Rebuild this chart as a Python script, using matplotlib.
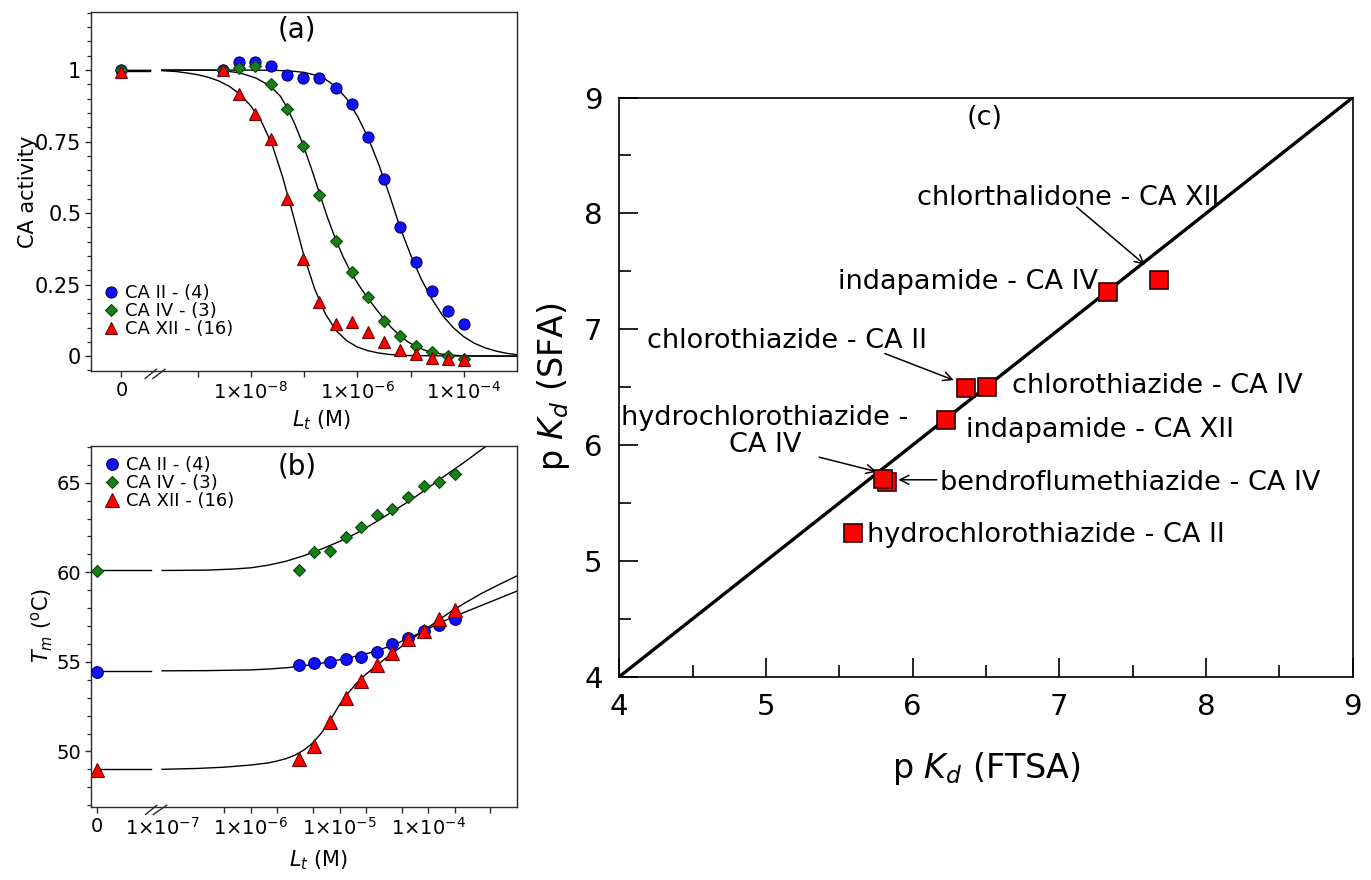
import matplotlib
import numpy as np

matplotlib.use("Agg")
import matplotlib.pyplot as plt
from matplotlib.transforms import blended_transform_factory

# ---------------------------------------------------------------------------
# Panel (a): CA activity (SFA) vs total ligand concentration, 2-fold dilutions
# ---------------------------------------------------------------------------
conc_a = [3.05e-9, 6.10e-9, 1.22e-8, 2.44e-8, 4.88e-8, 9.77e-8, 1.95e-7, 3.91e-7,
          7.81e-7, 1.56e-6, 3.13e-6, 6.25e-6, 1.25e-5, 2.5e-5, 5e-5, 1e-4]
act_ca2 = [1.0, 1.027, 1.029, 1.014, 0.983, 0.973, 0.971, 0.938,
           0.880, 0.767, 0.618, 0.450, 0.330, 0.227, 0.157, 0.114]
act_ca4 = [1.0, 1.008, 1.015, 0.950, 0.864, 0.735, 0.565, 0.402,
           0.295, 0.207, 0.122, 0.070, 0.036, 0.013, 0.001, -0.010]
act_ca12 = [1.0, 0.918, 0.845, 0.758, 0.551, 0.339, 0.188, 0.114,
            0.118, 0.083, 0.050, 0.021, 0.006, -0.008, -0.010, -0.014]
# activity with no ligand added (plotted at the "0" position)
act0 = {"ca2": 1.0, "ca4": 1.0, "ca12": 0.995}

# fitted curves, log10(Lt) vs activity
fit_a_ca2_logc = [-9.67, -8.0, -7.5, -7.2, -7.0, -6.8, -6.6, -6.4, -6.2, -6.0, -5.8,
                  -5.6, -5.4, -5.2, -5.0, -4.8, -4.6, -4.4, -4.2, -4.0, -3.8, -3.6,
                  -3.4, -3.2, -3.0]
fit_a_ca2 = [1.0, 1.0, 0.999, 0.996, 0.992, 0.983, 0.968, 0.942, 0.900, 0.840, 0.765,
             0.672, 0.566, 0.452, 0.355, 0.270, 0.200, 0.143, 0.100, 0.068, 0.045,
             0.029, 0.018, 0.010, 0.005]
fit_a_ca4_logc = [-9.67, -8.8, -8.5, -8.2, -7.9, -7.64, -7.45, -7.32, -7.17, -7.02,
                  -6.86, -6.71, -6.56, -6.41, -6.26, -6.11, -5.96, -5.81, -5.66,
                  -5.51, -5.36, -5.2, -5.05, -4.9, -4.75, -4.6, -4.4, -4.2, -4.0, -3.0]
fit_a_ca4 = [1.0, 1.0, 0.998, 0.99, 0.972, 0.945, 0.91, 0.87, 0.81, 0.74, 0.655,
             0.57, 0.485, 0.41, 0.345, 0.29, 0.245, 0.205, 0.168, 0.132, 0.10,
             0.072, 0.05, 0.034, 0.022, 0.013, 0.007, 0.003, 0.001, 0.0]
fit_a_ca12_logc = [-9.67, -9.4, -9.2, -9.0, -8.8, -8.6, -8.4, -8.2, -8.0, -7.8, -7.6,
                   -7.4, -7.2, -7.0, -6.8, -6.6, -6.4, -6.2, -6.0, -5.8, -5.6, -5.4,
                   -5.2, -5.0, -4.5, -3.0]
fit_a_ca12 = [0.998, 0.995, 0.99, 0.984, 0.975, 0.962, 0.943, 0.915, 0.875, 0.82,
              0.74, 0.625, 0.49, 0.35, 0.235, 0.148, 0.09, 0.054, 0.032, 0.019,
              0.011, 0.006, 0.003, 0.002, 0.001, 0.0]

# ---------------------------------------------------------------------------
# Panel (b): melting temperature (FTSA) vs total ligand concentration
# ---------------------------------------------------------------------------
conc_b = [3.47e-6, 5.20e-6, 7.80e-6, 1.17e-5, 1.76e-5, 2.63e-5, 3.95e-5,
          5.93e-5, 8.89e-5, 1.33e-4, 2e-4]
tm_ca2 = [54.82, 54.91, 54.97, 55.15, 55.28, 55.55, 55.98, 56.35, 56.74, 57.06, 57.38]
tm_ca4 = [60.14, 61.13, 61.20, 61.97, 62.51, 63.18, 63.56, 64.19, 64.81, 65.05, 65.50]
tm_ca12 = [49.59, 50.32, 51.64, 52.99, 53.94, 54.80, 55.51, 56.26, 56.74, 57.38, 57.90]
tm0 = {"ca2": 54.44, "ca4": 60.08, "ca12": 48.97}

fit_b_ca2_logc = [-7.0, -6.5, -6.0, -5.8, -5.6, -5.4, -5.2, -5.0, -4.8, -4.6, -4.4,
                  -4.2, -4.0, -3.8, -3.6, -3.4, -3.2, -3.0]
fit_b_ca2 = [54.5, 54.51, 54.55, 54.6, 54.67, 54.78, 54.93, 55.12, 55.33, 55.58,
             55.93, 56.36, 56.85, 57.33, 57.75, 58.15, 58.55, 58.95]
fit_b_ca4_logc = [-7.0, -6.5, -6.2, -6.0, -5.8, -5.6, -5.4, -5.2, -5.0, -4.8, -4.6,
                  -4.4, -4.2, -4.0, -3.8, -3.6, -3.4, -3.3]
fit_b_ca4 = [60.1, 60.12, 60.18, 60.25, 60.4, 60.62, 60.93, 61.3, 61.72, 62.2,
             62.78, 63.4, 64.02, 64.72, 65.43, 66.12, 66.85, 67.2]
fit_b_ca12_logc = [-7.0, -6.6, -6.3, -6.0, -5.8, -5.7, -5.6, -5.5, -5.4, -5.3, -5.2,
                   -5.1, -5.0, -4.9, -4.8, -4.7, -4.6, -4.5, -4.4, -4.2, -4.0, -3.8,
                   -3.6, -3.4, -3.2, -3.0]
fit_b_ca12 = [49.0, 49.05, 49.12, 49.24, 49.36, 49.47, 49.6, 49.8, 50.08, 50.48,
              51.05, 51.78, 52.6, 53.28, 53.85, 54.32, 54.72, 55.12, 55.5, 56.22,
              56.93, 57.62, 58.25, 58.82, 59.32, 59.8]

# ---------------------------------------------------------------------------
# Panel (c): pKd by FTSA vs pKd by SFA
# ---------------------------------------------------------------------------
pairs = ["bendroflumethiazide - CA IV", "chlorthalidone - CA XII",
         "indapamide - CA IV", "chlorothiazide - CA II", "chlorothiazide - CA IV",
         "indapamide - CA XII", "hydrochlorothiazide - CA IV",
         "hydrochlorothiazide - CA II"]
pkd_ftsa = [5.823, 7.681, 7.333, 6.363, 6.504, 6.227, 5.80, 5.595]
pkd_sfa = [5.684, 7.426, 7.319, 6.490, 6.504, 6.217, 5.705, 5.238]

# ---------------------------------------------------------------------------
BLUE, BLUE_E = "#1010ff", "#00006e"
GREEN, GREEN_E = "#178017", "#0a430a"
RED, RED_E = "#ff0000", "#6e0000"
AX_COL = "#2a2a2a"

ZERO_A = 10 ** -10.43          # where "0" sits on the log axis of (a)
GAP_A = (10 ** -9.89, 10 ** -9.67)
ZERO_B = 10 ** -7.73
GAP_B = (10 ** -7.12, 10 ** -7.0)

fig = plt.figure(figsize=(13.71, 8.8), dpi=100)
ax_a = fig.add_axes([0.0664, 0.5784, 0.3107, 0.4076])
ax_b = fig.add_axes([0.0664, 0.0830, 0.3107, 0.4102])
ax_c = fig.add_axes([0.4517, 0.2310, 0.5350, 0.6582])


def mark_break(ax, x_lo, x_hi):
    # two short slashes across the bottom spine where the axis is cut
    trans = blended_transform_factory(ax.transData, ax.transAxes)
    for x0, x1 in zip(x_lo, x_hi):
        ax.plot([x0, x1], [-0.022, 0.006], color=AX_COL, lw=1.0,
                transform=trans, clip_on=False, solid_capstyle="butt")


def style_small(ax, ylabsize):
    ax.set_xscale("log")
    for sp in ax.spines.values():
        sp.set_color(AX_COL)
        sp.set_linewidth(1.0)
    ax.tick_params(which="both", direction="out", color=AX_COL, labelsize=14,
                   top=False, right=False, pad=3)
    ax.tick_params(axis="y", labelsize=ylabsize)
    ax.tick_params(which="major", length=4, width=1.0)
    ax.tick_params(which="minor", length=3, width=0.9)
    ax.tick_params(axis="x", which="minor", length=4, width=1.0)


series = [("ca2", "CA II - (4)", "o", 8, BLUE, BLUE_E),
          ("ca4", "CA IV - (3)", "D", 6, GREEN, GREEN_E),
          ("ca12", "CA XII - (16)", "^", 9, RED, RED_E)]
legend_kw = dict(frameon=False, fontsize=13, handlelength=0.8, handletextpad=0.35,
                 labelspacing=0.0, borderpad=0, borderaxespad=0, numpoints=1)

# ----- (a) -----
style_small(ax_a, 15)
fits_a = {"ca2": (fit_a_ca2_logc, fit_a_ca2), "ca4": (fit_a_ca4_logc, fit_a_ca4),
          "ca12": (fit_a_ca12_logc, fit_a_ca12)}
acts = {"ca2": act_ca2, "ca4": act_ca4, "ca12": act_ca12}
for key, *_ in series:
    lc, fv = fits_a[key]
    ax_a.plot([ZERO_A, GAP_A[0]], [fv[0], fv[0]], color="black", lw=1.0, zorder=2)
    ax_a.plot(10.0 ** np.array(lc), fv, color="black", lw=1.0, zorder=2)
handles = []
for key, label, mk, ms, fc, ec in series:
    h, = ax_a.plot([ZERO_A] + conc_a, [act0[key]] + acts[key], ls="none", marker=mk,
                   ms=ms, mfc=fc, mec=ec, mew=0.8, zorder=3, label=label)
    handles.append(h)

ax_a.set_xlim(1e-11, 1e-3)
ax_a.set_ylim(-0.052, 1.202)
ax_a.set_xticks([ZERO_A, 1e-9, 1e-8, 1e-7, 1e-6, 1e-5, 1e-4],
                ["0", "", r"$1{\times}10^{-8}$", "", r"$1{\times}10^{-6}$", "",
                 r"$1{\times}10^{-4}$"])
ax_a.xaxis.set_minor_locator(matplotlib.ticker.NullLocator())
ax_a.set_yticks([0, 0.25, 0.5, 0.75, 1.0], ["0", "0.25", "0.5", "0.75", "1"])
ax_a.set_yticks(np.arange(-0.05, 1.21, 0.05), minor=True)
ax_a.set_ylabel("CA activity", fontsize=15)
ax_a.yaxis.set_label_coords(-0.125, 0.5)
ax_a.set_xlabel(r"$L_t$ (M)", fontsize=15)
ax_a.xaxis.set_label_coords(0.54, -0.105)
ax_a.text(0.483, 0.951, "(a)", transform=ax_a.transAxes, fontsize=20,
          ha="center", va="center")
ax_a.legend(handles=handles, loc="lower left", bbox_to_anchor=(0.03, 0.092),
            **legend_kw)
mark_break(ax_a, [10 ** -9.994, 10 ** -9.849], [10 ** -9.762, 10 ** -9.598])

# ----- (b) -----
style_small(ax_b, 14)
fits_b = {"ca2": (fit_b_ca2_logc, fit_b_ca2), "ca4": (fit_b_ca4_logc, fit_b_ca4),
          "ca12": (fit_b_ca12_logc, fit_b_ca12)}
tms = {"ca2": tm_ca2, "ca4": tm_ca4, "ca12": tm_ca12}
for key, *_ in series:
    lc, fv = fits_b[key]
    ax_b.plot([ZERO_B, GAP_B[0]], [fv[0], fv[0]], color="black", lw=1.0, zorder=2)
    ax_b.plot(10.0 ** np.array(lc), fv, color="black", lw=1.0, zorder=2)
handles = []
for key, label, mk, ms, fc, ec in series:
    h, = ax_b.plot([ZERO_B] + conc_b, [tm0[key]] + tms[key], ls="none", marker=mk,
                   ms=ms + 0.4, mfc=fc, mec=ec, mew=0.8, zorder=3, label=label)
    handles.append(h)

ax_b.set_xlim(10 ** -7.8, 1e-3)
ax_b.set_ylim(46.9, 67.05)
ax_b.set_xticks([ZERO_B, 1e-7, 1e-6, 1e-5, 1e-4],
                ["0", r"$1{\times}10^{-7}$", r"$1{\times}10^{-6}$",
                 r"$1{\times}10^{-5}$", r"$1{\times}10^{-4}$"])
ax_b.set_xticks([5e-7, 2e-6, 5e-6, 2e-5, 5e-5, 2e-4, 5e-4], minor=True)
ax_b.xaxis.get_major_ticks()[1].tick1line.set_visible(False)
ax_b.set_yticks([50, 55, 60, 65])
ax_b.set_yticks(np.arange(47, 67.1, 1), minor=True)
ax_b.set_ylabel(r"$T_m$ ($^{\mathrm{o}}$C)", fontsize=15)
ax_b.yaxis.set_label_coords(-0.085, 0.504)
ax_b.set_xlabel(r"$L_t$ (M)", fontsize=15)
ax_b.xaxis.set_label_coords(0.533, -0.115)
ax_b.text(0.483, 0.943, "(b)", transform=ax_b.transAxes, fontsize=20,
          ha="center", va="center")
ax_b.legend(handles=handles, loc="upper left", bbox_to_anchor=(0.033, 0.972),
            **legend_kw)
mark_break(ax_b, [10 ** -7.192, 10 ** -7.105], [10 ** -7.053, 10 ** -6.94])

# ----- (c) -----
ax_c.plot([4, 9], [4, 9], color="black", lw=2.4, zorder=2)
for i, name in enumerate(pairs):
    edge = "#3a0000" if i == 0 else "#2a0000"
    ax_c.plot(pkd_ftsa[i], pkd_sfa[i], ls="none", marker="s", ms=13, mfc=RED,
              mec=edge, mew=1.2, zorder=3 + i)
ax_c.set_xlim(4, 9)
ax_c.set_ylim(4, 9)
for sp in ax_c.spines.values():
    sp.set_linewidth(1.2)
ax_c.tick_params(which="both", direction="in", top=False, right=False, width=1.2)
ax_c.tick_params(which="major", length=14, labelsize=21)
ax_c.tick_params(axis="x", which="major", pad=12)
ax_c.tick_params(axis="y", which="major", pad=12)
ax_c.tick_params(which="minor", length=8.5)
ax_c.set_xticks([4, 5, 6, 7, 8, 9])
ax_c.set_yticks([4, 5, 6, 7, 8, 9])
ax_c.set_xticks([4.5, 5.5, 6.5, 7.5, 8.5], minor=True)
ax_c.set_yticks([4.5, 5.5, 6.5, 7.5, 8.5], minor=True)
ax_c.set_xlabel(r"p $K_d$ (FTSA)", fontsize=24)
ax_c.xaxis.set_label_coords(0.5, -0.127)
ax_c.set_ylabel(r"p $K_d$ (SFA)", fontsize=24)
ax_c.yaxis.set_label_coords(-0.065, 0.5)
ax_c.text(6.493, 8.82, "(c)", fontsize=19.5, ha="center", va="center")

fs = 19.5
ax_c.text(6.031, 8.073, "chlorthalidone - CA XII", fontsize=fs, va="baseline")
ax_c.text(7.265, 7.345, "indapamide - CA IV", fontsize=fs, ha="right", va="baseline")
ax_c.text(6.095, 6.836, "chlorothiazide - CA II", fontsize=fs, ha="right",
          va="baseline")
ax_c.text(6.675, 6.452, "chlorothiazide - CA IV", fontsize=fs, va="baseline")
ax_c.text(6.363, 6.07, "indapamide - CA XII", fontsize=fs, va="baseline")
ax_c.text(4.993, 5.943, "hydrochlorothiazide -\nCA IV", fontsize=fs, ha="center",
          va="baseline", multialignment="center", linespacing=1.05)
ax_c.text(6.186, 5.61, "bendroflumethiazide - CA IV", fontsize=fs, va="baseline")
ax_c.text(5.686, 5.166, "hydrochlorothiazide - CA II", fontsize=fs, va="baseline")

arrow = dict(arrowstyle="->", color="black", lw=1.1, shrinkA=0, shrinkB=0,
             mutation_scale=16)
for tail, tip in [((7.118, 8.054), (7.584, 7.555)),
                  ((5.81, 6.79), (6.28, 6.56)),
                  ((5.363, 5.895), (5.755, 5.77)),
                  ((6.164, 5.70), (5.902, 5.70))]:
    ax_c.annotate("", xy=tip, xytext=tail, arrowprops=arrow, zorder=1)

fig.savefig("out.png", dpi=100)
